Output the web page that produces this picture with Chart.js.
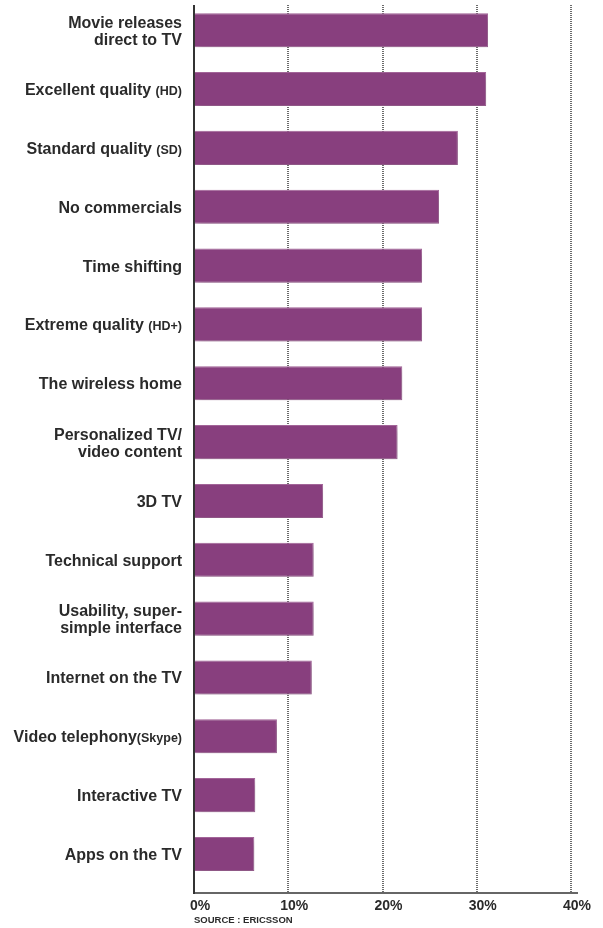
<!DOCTYPE html>
<html>
<head>
<meta charset="utf-8">
<script src="https://cdn.jsdelivr.net/npm/chart.js@4.4.1/dist/chart.umd.min.js"></script>
<style>
html, body { margin: 0; padding: 0; background: #fff; }
#wrap { width: 603px; height: 928px; position: relative; }
</style>
</head>
<body>
<div id="wrap"><canvas id="chart"></canvas></div>
<script>
// Chart data
const categories = [
    ['Movie releases', 'direct to TV'],
    ['Excellent quality (HD)'],
    ['Standard quality (SD)'],
    ['No commercials'],
    ['Time shifting'],
    ['Extreme quality (HD+)'],
    ['The wireless home'],
    ['Personalized TV/', 'video content'],
    ['3D TV'],
    ['Technical support'],
    ['Usability, super-', 'simple interface'],
    ['Internet on the TV'],
    ['Video telephony(Skype)'],
    ['Interactive TV'],
    ['Apps on the TV']
];
const values = [31.2, 31.0, 28.0, 26.0, 24.2, 24.2, 22.1, 21.6, 13.7, 12.7, 12.7, 12.5, 8.8, 6.5, 6.4];
const tickValues = [0, 10, 20, 30, 40];
const sourceNote = 'SOURCE : ERICSSON';

const FONT = '"Liberation Sans", Arial, sans-serif';
const TEXT_COLOR = '#2a2a2a';

// Dotted grid, axis lines, bar shadow and the y labels (mixed font sizes)
const chartDecor = {
    id: 'chartDecor',
    beforeDatasetsDraw(chart) {
        const { ctx, chartArea, scales: { x } } = chart;
        const axisY = chartArea.bottom + 9.5;
        ctx.save();
        ctx.strokeStyle = '#3a3a3a';
        ctx.lineWidth = 1.5;
        ctx.setLineDash([1, 1]);
        tickValues.slice(1).forEach(v => {
            const px = Math.round(x.getPixelForValue(v));
            ctx.beginPath();
            ctx.moveTo(px, 5);
            ctx.lineTo(px, axisY);
            ctx.stroke();
        });
        ctx.restore();

        // soft shadow under the bars
        ctx.save();
        ctx.shadowColor = 'rgba(0, 0, 0, 0.2)';
        ctx.shadowBlur = 7;
        ctx.shadowOffsetX = 3;
        ctx.shadowOffsetY = 3;
    },
    afterDatasetsDraw(chart) {
        const { ctx, chartArea, scales: { x, y } } = chart;
        ctx.restore();

        const axisY = chartArea.bottom + 9.5;
        const x0 = x.getPixelForValue(0);
        const xEnd = x.getPixelForValue(tickValues[tickValues.length - 1]);

        ctx.save();
        ctx.strokeStyle = '#333';
        ctx.lineWidth = 2;
        ctx.beginPath();
        ctx.moveTo(x0, 5);
        ctx.lineTo(x0, axisY + 1);
        ctx.stroke();
        ctx.lineWidth = 1.5;
        ctx.beginPath();
        ctx.moveTo(x0 - 1, axisY);
        ctx.lineTo(xEnd + 7, axisY);
        ctx.stroke();
        ctx.restore();

        // category labels
        const right = x0 - 12;
        const lineH = 17;
        ctx.save();
        ctx.fillStyle = TEXT_COLOR;
        ctx.textBaseline = 'alphabetic';
        ctx.textAlign = 'right';
        categories.forEach((lines, i) => {
            const cy = y.getPixelForValue(i);
            const first = cy - (lines.length - 1) * lineH / 2 + 6;
            lines.forEach((line, j) => {
                const by = first + j * lineH;
                const cut = line.indexOf('(');
                const main = cut >= 0 ? line.slice(0, cut) : line;
                const small = cut >= 0 ? line.slice(cut) : '';
                let rx = right;
                if (small) {
                    ctx.font = 'bold 12.5px ' + FONT;
                    ctx.fillText(small, rx, by);
                    rx -= ctx.measureText(small).width;
                }
                ctx.font = 'bold 16px ' + FONT;
                ctx.fillText(main, rx, by);
            });
        });
        ctx.restore();
    }
};

const ctx = document.getElementById('chart');

new Chart(ctx, {
    type: 'bar',
    data: {
        labels: categories.map(l => l.join(' ')),
        datasets: [{
            data: values,
            backgroundColor: '#883f7e',
            borderColor: '#a6679c',
            borderWidth: 1,
            barPercentage: 0.58,
            categoryPercentage: 1
        }]
    },
    options: {
        indexAxis: 'y',
        responsive: true,
        maintainAspectRatio: false,
        animation: false,
        devicePixelRatio: 1,
        layout: {
            padding: { top: 0.8, right: 32, left: 0, bottom: 0 }
        },
        scales: {
            x: {
                type: 'linear',
                position: 'bottom',
                min: 0,
                max: 40,
                afterBuildTicks: scale => {
                    scale.ticks = tickValues.map(v => ({ value: v }));
                },
                afterFit: scale => { scale.height = 44.6; },
                ticks: {
                    callback: v => v + '%',
                    font: { family: FONT, size: 14, weight: 'bold' },
                    color: TEXT_COLOR,
                    padding: 14,
                    labelOffset: 6,
                    maxRotation: 0
                },
                grid: { display: false, drawTicks: false },
                border: { display: false },
                title: {
                    display: true,
                    text: sourceNote,
                    align: 'start',
                    color: TEXT_COLOR,
                    font: { family: FONT, size: 9.5, weight: 'bold' },
                    padding: { top: 0, bottom: 2 }
                }
            },
            y: {
                type: 'category',
                afterFit: scale => { scale.width = 194; },
                ticks: { display: false },
                grid: { display: false, drawTicks: false },
                border: { display: false }
            }
        },
        plugins: {
            legend: { display: false },
            tooltip: { enabled: false }
        }
    },
    plugins: [chartDecor]
});
</script>
</body>
</html>
